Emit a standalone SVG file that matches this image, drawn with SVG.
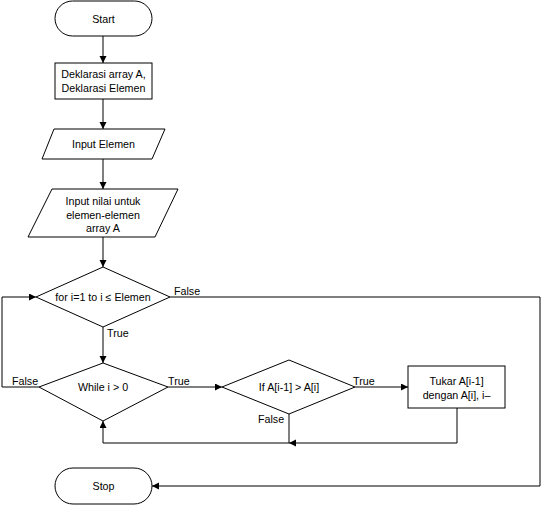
<svg xmlns="http://www.w3.org/2000/svg" width="542" height="505" viewBox="0 0 542 505">
<defs>
<marker id="ah" markerUnits="userSpaceOnUse" markerWidth="8" markerHeight="8" refX="7" refY="3.5" orient="auto">
<path d="M0,0 L7,3.5 L0,7 z" fill="#000"/>
</marker>
<style>
.s{fill:#fff;stroke:#000;stroke-width:1}
.t{font-family:"Liberation Sans",Arial,sans-serif;font-size:10.7px;fill:#000;text-anchor:middle;dominant-baseline:central}
.l{font-family:"Liberation Sans",Arial,sans-serif;font-size:10.7px;fill:#000}
.c{fill:none;stroke:#000;stroke-width:1;marker-end:url(#ah)}
</style>
</defs>
<rect width="542" height="505" fill="#fff"/>
<g id="connectors">
<path class="c" d="M103,36 V63"/>
<path class="c" d="M103,99 V129"/>
<path class="c" d="M103,159 V189"/>
<path class="c" d="M103,237 V267"/>
<path class="c" d="M103,327 V363"/>
<path class="c" d="M168,387 H222"/>
<path class="c" d="M355,387 H408"/>
<path class="c" d="M457,408 V443 H289"/>
<path class="c" d="M289,414 V443 H103 V421"/>
<path class="c" d="M39,387 H2 V297 H36"/>
<path class="c" d="M170,297 H540 V486 H152"/>
<text class="l" x="174" y="295">False</text>
<text class="l" x="107" y="337">True</text>
<text class="l" x="12" y="385">False</text>
<text class="l" x="168" y="385">True</text>
<text class="l" x="353" y="385">True</text>
<text class="l" x="258" y="423">False</text>
</g>
<g id="start">
<rect class="s" x="55" y="1" width="97" height="35" rx="17.5"/>
<text class="t" x="103.5" y="18.5">Start</text>
</g>
<g id="deklarasi">
<rect class="s" x="55" y="63" width="97" height="36"/>
<text class="t" x="103.5" y="74">Deklarasi array A,</text>
<text class="t" x="103.5" y="88">Deklarasi Elemen</text>
</g>
<g id="input-elemen">
<polygon class="s" points="54,129 165,129 152,159 42,159"/>
<text class="t" x="103.5" y="144">Input Elemen</text>
</g>
<g id="input-nilai">
<polygon class="s" points="52,189 178,189 155,237 28,237"/>
<text class="t" x="103" y="201">Input nilai untuk</text>
<text class="t" x="103" y="214.5">elemen-elemen</text>
<text class="t" x="103" y="228">array A</text>
</g>
<g id="for">
<polygon class="s" points="103,267 170,297 103,327 36,297"/>
<text class="t" x="103" y="297">for i=1 to i ≤ Elemen</text>
</g>
<g id="while">
<polygon class="s" points="103,363 168,387 103,421 39,387"/>
<text class="t" x="103" y="387">While i &gt; 0</text>
</g>
<g id="if">
<polygon class="s" points="289,360 355,387 289,414 222,387"/>
<text class="t" x="289" y="387">If A[i-1] &gt; A[i]</text>
</g>
<g id="tukar">
<rect class="s" x="408" y="366" width="97" height="42"/>
<text class="t" x="456.5" y="381">Tukar A[i-1]</text>
<text class="t" x="456.5" y="395">dengan A[i], i–</text>
</g>
<g id="stop">
<rect class="s" x="55" y="468" width="97" height="36" rx="18"/>
<text class="t" x="103.5" y="486">Stop</text>
</g>
</svg>
